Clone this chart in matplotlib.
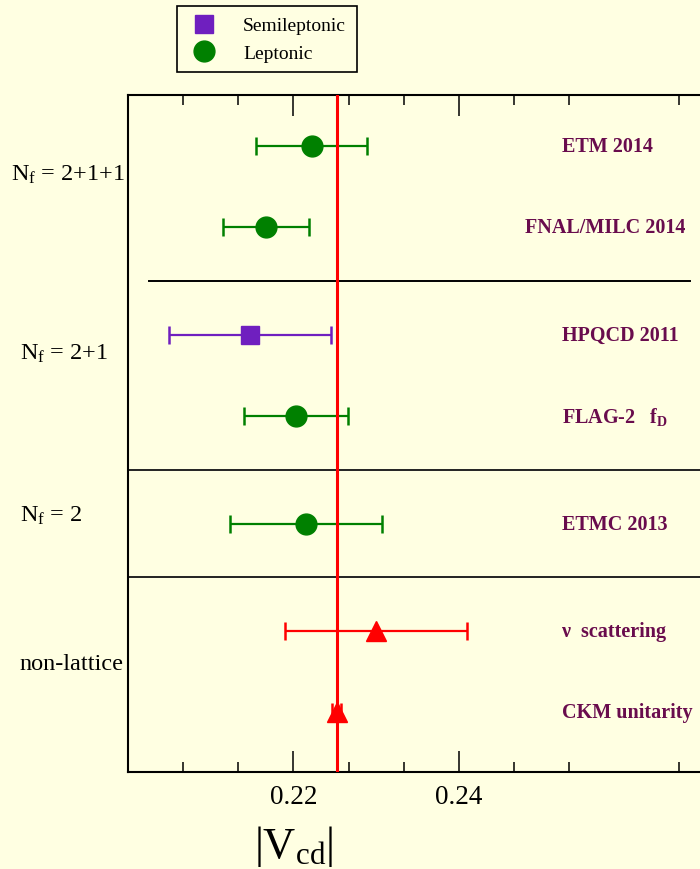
import numpy as np
import matplotlib
matplotlib.use("Agg")
import matplotlib.pyplot as plt
from matplotlib.lines import Line2D

# |Vcd| results (value, symmetric error)
names = ["ETM 2014", "FNAL/MILC 2014", "HPQCD 2011", r"FLAG-2   f$_\mathbf{D}$",
         "ETMC 2013", "\u03bd  scattering", "CKM unitarity"]
vcd = [0.2222, 0.2167, 0.2147, 0.2203, 0.2215, 0.2300, 0.2252]
err = [0.0067, 0.0052, 0.0098, 0.0063, 0.0092, 0.0110, 0.0006]
kind = ["Leptonic", "Leptonic", "Semileptonic", "Leptonic", "Leptonic",
        "other", "other"]

groups = [r"N$_\mathrm{f}$ = 2+1+1", r"N$_\mathrm{f}$ = 2+1", r"N$_\mathrm{f}$ = 2", "non-lattice"]
unitarity = 0.2252

# layout
rows = [6.25, 5.5, 4.5, 3.75, 2.75, 1.75, 1.0]
group_y = [6.0, 4.33, 2.83, 1.45]
group_x = [-0.202, -0.187, -0.187, -0.187]
name_x = [0.2525, 0.2480, 0.2525, 0.2525, 0.2525, 0.2525, 0.2525]
separators = [5.0, 3.25, 2.25]

bg = "#ffffe2"
txtcol = "#690c4d"
style = {
    "Leptonic": dict(color="#008000", marker="o", ms=15),
    "Semileptonic": dict(color="#6f1fbf", marker="s", ms=12.5),
    "other": dict(color="#ff0000", marker="^", ms=15),
}

plt.rcParams["font.family"] = "Liberation Serif"
plt.rcParams["mathtext.fontset"] = "custom"
plt.rcParams["mathtext.rm"] = "Liberation Serif"
plt.rcParams["mathtext.it"] = "Liberation Serif:italic"
plt.rcParams["mathtext.bf"] = "Liberation Serif:bold"

fig = plt.figure(figsize=(7, 8.7), dpi=100, facecolor=bg)
ax = fig.add_axes([0.183, 0.111, 0.827, 0.779])
ax.set_facecolor(bg)

# unitarity line drawn over the error bars
ax.axvline(unitarity, color="#ff0000", lw=2.2, zorder=4)

for i in range(len(vcd)):
    s = style[kind[i]]
    ax.errorbar(vcd[i], rows[i], xerr=err[i], fmt=s["marker"], ms=s["ms"],
                color=s["color"], mec=s["color"], elinewidth=1.6,
                capsize=6.5, capthick=1.8, zorder=3)
    ax.text(name_x[i], rows[i], names[i], color=txtcol, fontsize=14.5,
            fontweight="bold", ha="left", va="center")

ax.plot([0.2025, 0.2680], [separators[0], separators[0]], color="black", lw=1.4, zorder=2)
for s in separators[1:]:
    ax.axhline(s, color="#222222", lw=1.4, zorder=2)

for g, gy, gx in zip(groups, group_y, group_x):
    ax.text(gx, gy, g, transform=ax.get_yaxis_transform(), fontsize=17.5,
            ha="left", va="center", clip_on=False)

ax.set_xticks([0.22, 0.24])
ax.set_xticklabels(["0.22", "0.24"])
minor = [0.20 + k * 0.02 / 3 for k in range(1, 11) if k % 3 != 0]
ax.set_xticks(minor, minor=True)
ax.set_xlim(0.20, 0.27)
ax.set_ylim(0.44, 6.73)
ax.tick_params(axis="x", which="both", direction="in", top=True, bottom=True,
               labelsize=19.5, pad=8, width=1.1)
ax.tick_params(axis="x", which="major", length=15)
ax.tick_params(axis="x", which="minor", length=7.5)
ax.set_yticks([])
for sp in ax.spines.values():
    sp.set_linewidth(1.5)

fig.text(293.9 / 700, 12 / 870, r"$|\mathrm{V}_{\mathrm{cd}}|$", fontsize=32,
         ha="center", va="baseline")

handles = [
    Line2D([], [], ls="none", marker="s", ms=12.5, color=style["Semileptonic"]["color"]),
    Line2D([], [], ls="none", marker="o", ms=15, color=style["Leptonic"]["color"]),
]
leg = fig.legend(handles, ["Semileptonic", "Leptonic"], loc="upper left",
                 bbox_to_anchor=(177 / 700, 1 - 7 / 870), borderaxespad=0,
                 fontsize=14, frameon=True, fancybox=False, facecolor=bg,
                 edgecolor="black", framealpha=1, handlelength=1.7,
                 handletextpad=1.15, labelspacing=0.5, borderpad=0.55)
leg.get_frame().set_linewidth(1.2)

fig.savefig("out.png", dpi=100, facecolor=bg)
